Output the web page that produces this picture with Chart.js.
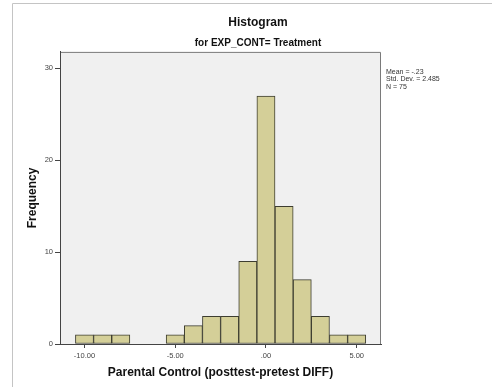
<!DOCTYPE html>
<html>
<head>
<meta charset="utf-8">
<script src="https://cdn.jsdelivr.net/npm/chart.js@4/dist/chart.umd.min.js"></script>
<style>
  html, body { margin: 0; padding: 0; background: #ffffff; }
  #wrap { width: 492px; height: 387px; position: relative; }
</style>
</head>
<body>
<div id="wrap"><canvas id="c" width="492" height="387"></canvas></div>
<script>
// ---- data ----
const binCenters = [-10, -9, -8, -5, -4, -3, -2, -1, 0, 1, 2, 3, 4, 5];
const frequencies = [1, 1, 1, 1, 2, 3, 3, 9, 27, 15, 7, 3, 1, 1];
const xTickValues = [-10, -5, 0, 5];
const xTickLabels = ['-10.00', '-5.00', '.00', '5.00'];
const yTickValues = [0, 10, 20, 30];
const statsLines = ['Mean = -.23', 'Std. Dev. = 2.485', 'N = 75'];
const chartTitle = 'Histogram';
const chartSubtitle = 'for EXP_CONT= Treatment';
const xTitle = 'Parental Control (posttest-pretest DIFF)';
const yTitle = 'Frequency';

const FONT = "'Liberation Sans', Arial, sans-serif";

const points = binCenters.map((x, i) => ({ x: x, y: frequencies[i] }));

const decorPlugin = {
  id: 'decor',
  beforeDraw(chart) {
    const ctx = chart.ctx;
    const a = chart.chartArea;
    ctx.save();
    ctx.strokeStyle = '#c4c4c4';
    ctx.lineWidth = 1;
    ctx.beginPath();
    ctx.moveTo(12.5, 387);
    ctx.lineTo(12.5, 3.5);
    ctx.lineTo(492, 3.5);
    ctx.stroke();
    ctx.fillStyle = '#f0f0f0';
    ctx.fillRect(a.left, a.top, a.right - a.left, a.bottom - a.top);
    ctx.strokeStyle = '#7a7a7a';
    ctx.beginPath();
    ctx.moveTo(a.left, a.top + 0.5);
    ctx.lineTo(a.right - 0.5, a.top + 0.5);
    ctx.lineTo(a.right - 0.5, a.bottom);
    ctx.stroke();
    ctx.restore();
  },
  afterDraw(chart) {
    const ctx = chart.ctx;
    const a = chart.chartArea;
    ctx.save();
    ctx.fillStyle = '#333333';
    ctx.font = '7px ' + FONT;
    ctx.textBaseline = 'middle';
    ctx.textAlign = 'left';
    statsLines.forEach((t, i) => {
      ctx.fillText(t, a.right + 5, 72 + i * 7.5);
    });
    ctx.restore();
  }
};

new Chart(document.getElementById('c'), {
  type: 'bar',
  data: {
    datasets: [{
      data: points,
      backgroundColor: '#d4cf98',
      borderColor: '#3d3d30',
      borderWidth: 1,
      borderSkipped: false,
      barPercentage: 1,
      categoryPercentage: 1,
      grouped: false
    }]
  },
  options: {
    responsive: false,
    animation: false,
    layout: { padding: { left: 24, right: 0, top: 0, bottom: 0 } },
    plugins: {
      legend: { display: false },
      tooltip: { enabled: false },
      title: {
        display: true,
        text: chartTitle,
        color: '#111111',
        font: { family: FONT, size: 12, weight: 'bold' },
        padding: { top: 15.5, bottom: 7 }
      },
      subtitle: {
        display: true,
        text: chartSubtitle,
        color: '#111111',
        font: { family: FONT, size: 10, weight: 'bold' },
        padding: { top: 0, bottom: 3 }
      }
    },
    scales: {
      x: {
        type: 'linear',
        offset: false,
        min: -11.35,
        max: 6.34,
        afterBuildTicks(scale) { scale.ticks = xTickValues.map(v => ({ value: v })); },
        afterFit(scale) { scale.height = 43; },
        ticks: {
          color: '#444444',
          font: { family: FONT, size: 7.5 },
          padding: 3,
          maxRotation: 0,
          autoSkip: false,
          callback(value) {
            const i = xTickValues.indexOf(value);
            return i >= 0 ? xTickLabels[i] : '';
          }
        },
        grid: { offset: false, drawOnChartArea: false, drawTicks: true, tickLength: 4, color: '#444444' },
        border: { display: true, color: '#444444', width: 1 },
        title: {
          display: true,
          text: xTitle,
          color: '#111111',
          font: { family: FONT, size: 12, weight: 'bold' },
          padding: { top: 0, bottom: 7 }
        }
      },
      y: {
        type: 'linear',
        min: 0,
        max: 31.8,
        afterBuildTicks(scale) { scale.ticks = yTickValues.map(v => ({ value: v })); },
        afterFit(scale) { scale.width = 36; },
        ticks: {
          color: '#444444',
          font: { family: FONT, size: 7.5 },
          padding: 2,
          autoSkip: false
        },
        grid: { drawOnChartArea: false, drawTicks: true, tickLength: 5, color: '#444444' },
        border: { display: true, color: '#444444', width: 1 },
        title: {
          display: true,
          text: yTitle,
          color: '#111111',
          font: { family: FONT, size: 12, weight: 'bold' },
          padding: { top: 1, bottom: 0 }
        }
      },
      yRight: {
        type: 'linear',
        position: 'right',
        display: true,
        afterFit(scale) { scale.width = 111; },
        ticks: { display: false },
        grid: { display: false },
        border: { display: false }
      }
    }
  },
  plugins: [decorPlugin]
});
</script>
</body>
</html>
